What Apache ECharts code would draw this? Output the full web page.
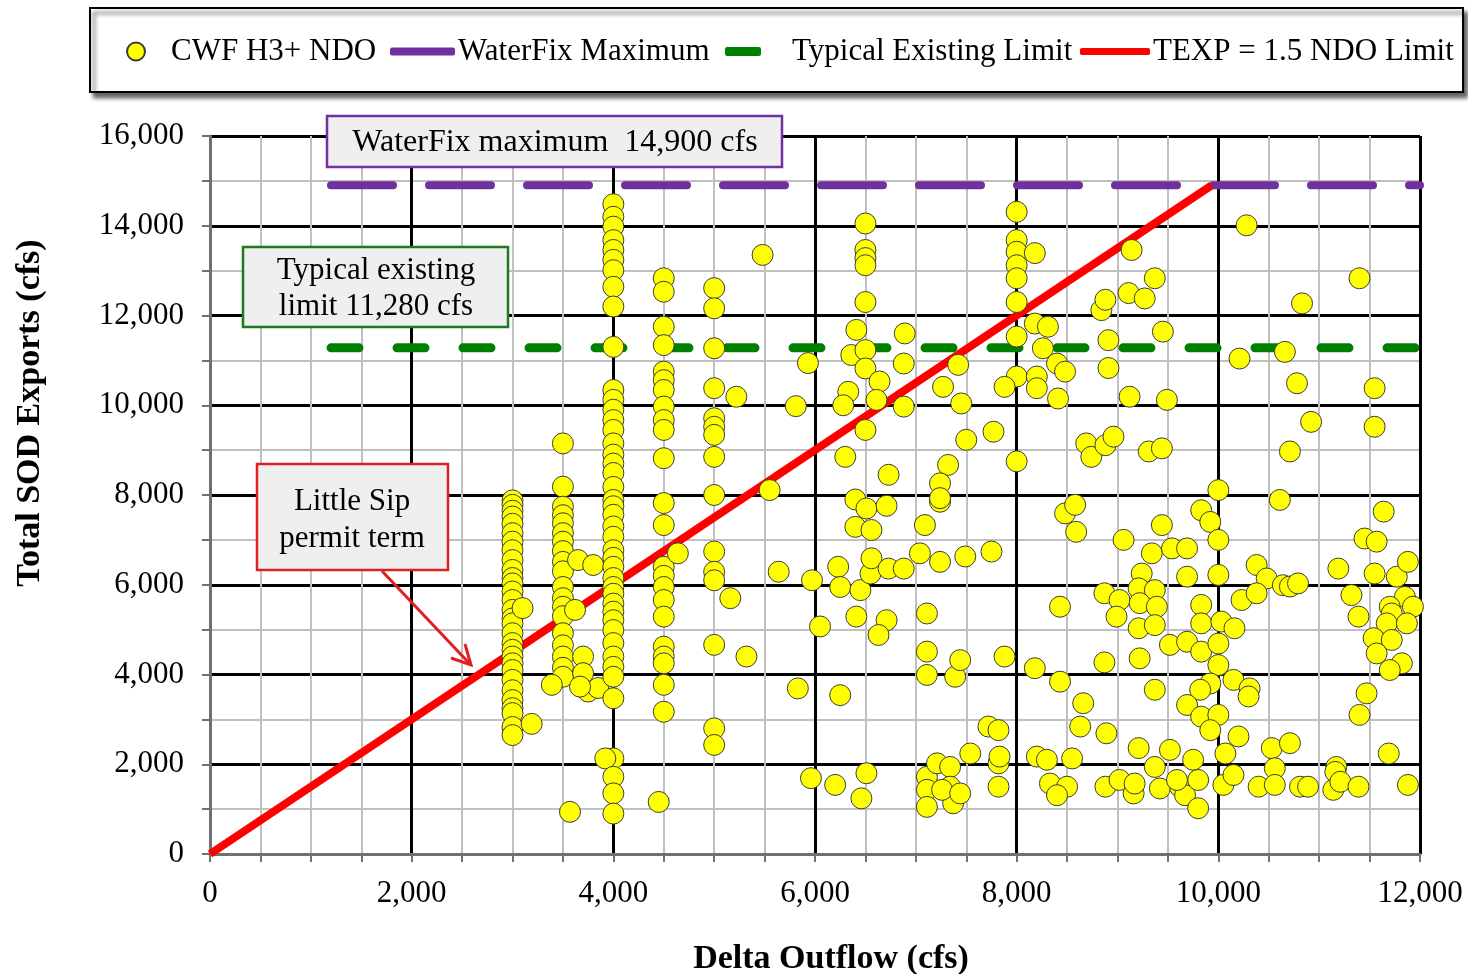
<!DOCTYPE html>
<html>
<head>
<meta charset="utf-8">
<script src="https://cdn.jsdelivr.net/npm/echarts@6/dist/echarts.min.js"></script>
<style>
html,body{margin:0;padding:0;background:#fff;}
#chart{width:1468px;height:974px;}
</style>
</head>
<body>
<div id="chart"></div>
<script>
// ---------------- DATA ----------------
const xTicks = [0, 2000, 4000, 6000, 8000, 10000, 12000];
const yTicks = [0, 2000, 4000, 6000, 8000, 10000, 12000, 14000, 16000];

const waterFixMax = 14900;       // cfs
const typicalLimit = 11280;      // cfs
const refLineStartX = 1200;      // where the two horizontal limit lines begin
const texpEnd = [9933, 14900];   // TEXP = 1.5 x NDO, drawn up to the WaterFix maximum

// CWF H3+ NDO points [Delta Outflow, Total SOD Exports]
const pts3000 = [[3000,7880],[3000,7780],[3000,7650],[3000,7520],[3000,7360],[3000,7150],[3000,6960],[3000,6770],[3000,6550],[3000,6330],[3000,6150],[3000,6030],[3000,5850],[3000,5660],[3000,5440],[3000,5250],[3000,5140],[3000,4920],[3000,4700],[3000,4550],[3000,4400],[3000,4250],[3000,4100],[3000,3880],[3000,3650],[3000,3430],[3000,3250],[3000,3140],[3000,2830],[3000,2650],[3100,5480],[3190,2900]];
const pts3500 = [[3500,9150],[3500,8185],[3500,7740],[3500,7550],[3500,7370],[3500,7150],[3500,6960],[3500,6750],[3500,6510],[3500,6300],[3500,5950],[3500,5700],[3500,5510],[3500,5300],[3500,4920],[3500,4650],[3500,4400],[3500,4150],[3500,3950],[3650,6550],[3800,6440],[3620,5440],[3390,3770],[3700,4400],[3700,4030],[3750,3620],[3850,3700],[3670,3730],[3570,940]];
const pts4000 = [[4000,14480],[4000,14200],[4000,13980],[4000,13680],[4000,13460],[4000,13240],[4000,13010],[4000,12640],[4000,12200],[4000,11300],[4000,10340],[4000,10120],[4000,9900],[4000,9670],[4000,9450],[4000,9150],[4000,8900],[4000,8700],[4000,8490],[4000,8180],[4000,7890],[4000,7750],[4000,7560],[4000,7300],[4000,7070],[4000,6770],[4000,6600],[4000,6400],[4000,6150],[4000,5950],[4000,5800],[4000,5580],[4000,5400],[4000,5210],[4000,4990],[4000,4700],[4000,4400],[4000,4170],[4000,3950],[4000,3470],[4000,2130],[3920,2130],[4000,1720],[4000,1350],[4000,900]];
const pts4500 = [[4500,12830],[4500,12530],[4500,11750],[4500,11340],[4500,10750],[4500,10560],[4500,10340],[4500,9970],[4500,9670],[4500,9450],[4500,8820],[4500,7820],[4500,7330],[4500,6400],[4500,6200],[4500,5950],[4500,5660],[4500,5290],[4500,4620],[4500,4400],[4500,4250],[4500,3770],[4500,3170],[4450,1160],[4640,6700]];
const pts5000 = [[5000,12610],[5000,12160],[5000,11270],[5000,10380],[5000,9710],[5000,9520],[5000,9340],[5000,8850],[5000,8000],[5000,6740],[5000,6290],[5000,6100],[5000,4660],[5000,2800],[5000,2430],[5220,10190],[5480,13350],[5550,8110],[5160,5700],[5640,6290],[5320,4400],[5810,9980],[5930,10940],[5830,3690],[5970,6100],[5960,1690],[6050,5070],[6200,1540],[6250,3540]];
const pts6000 = [[6500,14050],[6500,13460],[6500,13280],[6500,13120],[6500,12300],[6410,11680],[6360,11120],[6500,11230],[6500,10820],[6640,10530],[6330,10300],[6280,10000],[6610,10120],[6500,9450],[6300,8850],[6730,8450],[6400,7900],[6510,7700],[6710,7760],[6890,11600],[6880,10930],[6880,9970],[6400,7290],[6560,7220],[6230,6400],[6250,5950],[6450,5880],[6550,6250],[6560,6590],[6730,6360],[6880,6360],[6410,5290],[6710,5210],[6630,4880],[6510,1800],[6460,1240]];
const pts7000 = [[7090,7330],[7240,7850],[7040,6700],[7240,6510],[7490,6630],[7750,6740],[7110,5360],[7110,4510],[7110,3990],[7390,3950],[7440,4320],[7880,4400],[7720,2840],[7820,2760],[7540,2240],[7820,2020],[7830,2170],[7820,1500],[7110,1720],[7110,1430],[7110,1050],[7210,2020],[7340,1940],[7340,1500],[7370,1130],[7260,1430],[7440,1350],[7270,10410],[7420,10900],[7450,10040],[7500,9230],[7770,9410],[7320,8670],[7240,8260],[7240,7930]];
const pts8000 = [[8000,14310],[8000,13680],[8000,13420],[8000,13120],[8000,12830],[8000,12300],[8000,11530],[8000,10640],[8000,8750],[8180,13390],[7880,10410],[8200,10640],[8200,10380],[8180,11820],[8310,11750],[8260,11270],[8400,10930],[8480,10750],[8410,10150],[8840,12120],[8880,12350],[8910,11450],[8910,10830],[8690,9150],[8740,8850],[8880,9110],[8960,9300],[8480,7590],[8590,7180],[8580,7780],[8180,4140],[8430,3840],[8430,5510],[8660,3360],[8630,2840],[8200,2170],[8300,2100],[8330,1570],[8500,1500],[8550,2130],[8400,1310],[8870,5810],[8870,4270],[8890,2690],[8880,1500]];
const pts9000 = [[9140,13460],[9370,12830],[9110,12500],[9270,12380],[9450,11640],[9120,10190],[9490,10120],[9310,8970],[9440,9040],[10000,8110],[9830,7660],[9920,7400],[9440,7330],[9060,7000],[9340,6700],[9540,6810],[9690,6810],[10000,7000],[9240,6250],[9690,6180],[10000,6220],[9210,5920],[9370,5880],[9020,5660],[9220,5590],[9390,5510],[8990,5290],[9210,5030],[9370,5100],[9220,4360],[9370,3660],[9520,4660],[9690,4730],[9830,5550],[9830,5140],[9830,4510],[10030,5180],[10000,4690],[10160,5030],[10000,4210],[9920,3800],[10150,3880],[10310,3690],[10300,3510],[9820,3660],[9690,3320],[9830,3060],[10000,3100],[9920,2760],[10200,2620],[10070,2240],[9210,2360],[9520,2320],[9370,1940],[9750,2100],[9020,1650],[9160,1350],[9170,1570],[9420,1460],[9620,1500],[9670,1310],[9800,1650],[9800,1020],[9590,1650],[10050,1540],[10150,1760]];
const pts10000 = [[10280,14010],[11400,12830],[10830,12270],[10210,11040],[10660,11190],[10780,10490],[11550,10380],[10920,9630],[11550,9520],[10710,8970],[10610,7890],[11640,7630],[10380,6440],[10480,6140],[10230,5660],[10380,5810],[10640,5990],[10710,5960],[10790,6030],[10530,2360],[10710,2470],[10560,1910],[11690,2240],[11170,1940],[10400,1500],[10560,1540],[10810,1500],[10890,1500],[11140,1430],[11160,1830],[11210,1610],[11390,1500],[11880,1540],[11190,6360],[11320,5770],[11390,5290],[11450,7030],[11570,6960],[11550,6250],[11770,6180],[11880,6510],[11850,5730],[11930,5510],[11700,5510],[11720,5360],[11670,5140],[11870,5140],[11540,4810],[11720,4770],[11570,4470],[11820,4250],[11700,4100],[11470,3580],[11400,3100]];

const cwfPoints = [].concat(pts3000, pts3500, pts4000, pts4500, pts5000, pts6000, pts7000, pts8000, pts9000, pts10000);

// ---------------- CHART ----------------
const FONT = "'Liberation Serif', 'Times New Roman', serif";
const fmt = v => Number(v).toLocaleString('en-US');
const chart = echarts.init(document.getElementById('chart'), null, {renderer: 'canvas'});

const legendBase = {
  orient: 'horizontal', padding: 0, top: 36, selectedMode: false,
  textStyle: {fontFamily: FONT, fontSize: 31, color: '#000'}
};

const option = {
  animation: false,
  backgroundColor: '#ffffff',
  grid: {left: 210, right: 48, top: 136, bottom: 120, containLabel: false, outerBoundsMode: 'none'},
  legend: [
    Object.assign({}, legendBase, {left: 126, itemWidth: 18, itemHeight: 18,
      data: [{name: 'CWF H3+ NDO', icon: 'circle'}],
      textStyle: {fontFamily: FONT, fontSize: 31, color: '#000', padding: [0, 0, 0, 21]}}),
    Object.assign({}, legendBase, {left: 390, itemWidth: 65, itemHeight: 8,
      data: [{name: 'WaterFix Maximum', icon: 'roundRect', itemStyle: {color: '#7030A0'}}],
      textStyle: {fontFamily: FONT, fontSize: 31, color: '#000', padding: [0, 0, 0, -2]}}),
    Object.assign({}, legendBase, {left: 725, itemWidth: 36, itemHeight: 9,
      data: [{name: 'Typical Existing Limit', icon: 'roundRect', itemStyle: {color: '#008000'}}],
      textStyle: {fontFamily: FONT, fontSize: 31, color: '#000', padding: [0, 0, 0, 26]}}),
    Object.assign({}, legendBase, {left: 1080, itemWidth: 70, itemHeight: 7,
      data: [{name: 'TEXP = 1.5 NDO Limit', icon: 'roundRect', itemStyle: {color: '#FF0000'}}],
      textStyle: {fontFamily: FONT, fontSize: 31, color: '#000', padding: [0, 0, 0, -2]}})
  ],
  xAxis: {
    type: 'value', min: xTicks[0], max: xTicks[xTicks.length - 1], interval: 2000,
    name: 'Delta Outflow (cfs)', nameLocation: 'middle', nameGap: 88,
    nameTextStyle: {fontFamily: FONT, fontSize: 34, fontWeight: 'bold', color: '#000', padding: [0, 0, 0, 32]},
    axisLine: {show: true, onZero: false, lineStyle: {color: '#707070', width: 3}},
    axisTick: {show: true, length: 8, lineStyle: {color: '#707070', width: 2}},
    minorTick: {show: true, splitNumber: 4, length: 8, lineStyle: {color: '#707070', width: 2}},
    axisLabel: {fontFamily: FONT, fontSize: 31, color: '#000', margin: 24, formatter: fmt},
    splitLine: {show: true, showMinLine: false, lineStyle: {color: '#000', width: 3}},
    minorSplitLine: {show: true, lineStyle: {color: '#C0C0C0', width: 2}}
  },
  yAxis: {
    type: 'value', min: yTicks[0], max: yTicks[yTicks.length - 1], interval: 2000,
    name: 'Total SOD Exports (cfs)', nameLocation: 'middle', nameGap: 163,
    nameTextStyle: {fontFamily: FONT, fontSize: 34, fontWeight: 'bold', color: '#000', padding: [0, 0, 0, 164]},
    axisLine: {show: true, onZero: false, lineStyle: {color: '#707070', width: 3}},
    axisTick: {show: true, length: 8, lineStyle: {color: '#707070', width: 2}},
    minorTick: {show: true, splitNumber: 2, length: 8, lineStyle: {color: '#707070', width: 2}},
    axisLabel: {fontFamily: FONT, fontSize: 31, color: '#000', margin: 26, formatter: fmt},
    splitLine: {show: true, showMinLine: false, lineStyle: {color: '#000', width: 3}},
    minorSplitLine: {show: true, lineStyle: {color: '#C0C0C0', width: 2}}
  },
  series: [
    {
      name: 'WaterFix Maximum', type: 'line', silent: true, symbol: 'none', z: 3,
      data: [[refLineStartX, waterFixMax], [xTicks[xTicks.length - 1], waterFixMax]],
      itemStyle: {color: '#7030A0'},
      lineStyle: {color: '#7030A0', width: 8, type: [62, 36], cap: 'round'}
    },
    {
      name: 'Typical Existing Limit', type: 'line', silent: true, symbol: 'none', z: 3,
      data: [[refLineStartX, typicalLimit], [xTicks[xTicks.length - 1], typicalLimit]],
      itemStyle: {color: '#008000'},
      lineStyle: {color: '#008000', width: 9, type: [28, 38], cap: 'round'}
    },
    {
      name: 'TEXP = 1.5 NDO Limit', type: 'line', silent: true, symbol: 'none', z: 3,
      data: [[0, 0], texpEnd],
      itemStyle: {color: '#FF0000'},
      lineStyle: {color: '#FF0000', width: 8}
    },
    {
      name: 'CWF H3+ NDO', type: 'scatter', z: 5, symbolSize: 21,
      data: cwfPoints,
      itemStyle: {color: '#FFFF00', borderColor: '#3c3c3c', borderWidth: 1, opacity: 1}
    }
  ],
  graphic: [
    // legend frame with shadow
    {type: 'rect', z: 1, shape: {x: 90, y: 8, width: 1373, height: 84},
     style: {fill: '#fff', stroke: '#000', lineWidth: 2, shadowBlur: 4, shadowColor: 'rgba(0,0,0,0.6)', shadowOffsetX: 4, shadowOffsetY: 5}},
    // WaterFix maximum call-out
    {type: 'rect', z: 100, shape: {x: 327, y: 116, width: 455, height: 51},
     style: {fill: '#EFEFEF', stroke: '#7030A0', lineWidth: 2.5}},
    {type: 'text', z: 101, x: 555, y: 143,
     style: {text: 'WaterFix maximum  14,900 cfs', font: "32px " + FONT, fill: '#000', align: 'center', verticalAlign: 'middle'}},
    // Typical existing limit call-out
    {type: 'rect', z: 100, shape: {x: 243, y: 247, width: 265, height: 80},
     style: {fill: '#EFEFEF', stroke: '#1F7A1F', lineWidth: 2.5}},
    {type: 'text', z: 101, x: 376, y: 289,
     style: {text: 'Typical existing\nlimit 11,280 cfs', font: "31px " + FONT, lineHeight: 36, fill: '#000', align: 'center', verticalAlign: 'middle'}},
    // Little Sip call-out
    {type: 'rect', z: 100, shape: {x: 257, y: 464, width: 191, height: 106},
     style: {fill: '#EFEFEF', stroke: '#E02020', lineWidth: 2.5}},
    {type: 'text', z: 101, x: 352, y: 520,
     style: {text: 'Little Sip\npermit term', font: "31px " + FONT, lineHeight: 37, fill: '#000', align: 'center', verticalAlign: 'middle'}},
    {type: 'line', z: 100, shape: {x1: 382, y1: 571, x2: 469, y2: 663},
     style: {stroke: '#E02020', lineWidth: 3}},
    {type: 'polyline', z: 100, shape: {points: [[465, 644], [471, 665], [451, 658]]},
     style: {stroke: '#E02020', lineWidth: 3, fill: null}}
  ]
};

chart.setOption(option);
</script>
</body>
</html>
